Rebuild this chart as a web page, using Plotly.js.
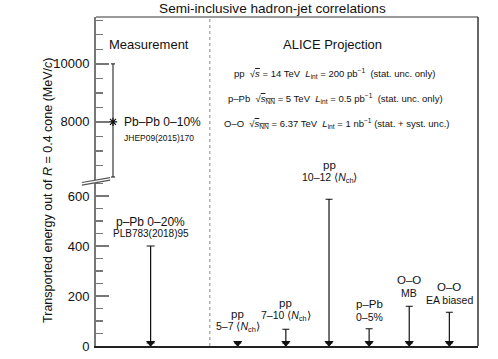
<!DOCTYPE html>
<html>
<head>
<meta charset="utf-8">
<script src="https://cdn.plot.ly/plotly-3.0.1.min.js"></script>
<style>
  body { margin: 0; background: #fff; }
  #chart { width: 498px; height: 359px; }
</style>
</head>
<body>
<div id="chart"></div>
<script>
// Measurements (published)
const measNames = ['Pb–Pb 0–10%', 'p–Pb 0–20%'];
const measRefs = ['JHEP09(2015)170', 'PLB783(2018)95'];
const measX = [0.445, 1.43];
const pbpbValue = 8000;
const pbpbHigh = 10000;
const pbpbLow = 6100;
const ppbLimit = 400;

// ALICE projections (upper limits)
const projSystems = ['pp', 'pp', 'pp', 'p–Pb', 'O–O', 'O–O'];
const projClasses = ['5–7 ⟨<i>N</i><sub>ch</sub>⟩', '7–10 ⟨<i>N</i><sub>ch</sub>⟩', '10–12 ⟨<i>N</i><sub>ch</sub>⟩', '0–5%', 'MB', 'EA biased'];
const projX = [3.71, 4.97, 6.1, 7.15, 8.2, 9.25];
const projLimits = [12, 67, 587, 69, 159, 135];

// tick labels
const lowTicks = [0, 200, 400, 600];
const highTicks = [8000, 10000];

// where the arrow heads sit (just above zero)
const arrowBase = 12;

const font = 'Liberation Sans, Arial, Helvetica, sans-serif';
const ink = '#111';

const measLimit = {
  x: [measX[1]],
  y: [arrowBase],
  xaxis: 'x', yaxis: 'y',
  type: 'scatter', mode: 'markers',
  marker: { symbol: 'triangle-down', size: 8, color: ink },
  error_y: {
    type: 'data', symmetric: false,
    array: [ppbLimit - arrowBase], arrayminus: [0],
    width: 4, thickness: 1.2, color: ink
  },
  hoverinfo: 'skip'
};

const pbpb = {
  x: [measX[0]],
  y: [pbpbValue],
  xaxis: 'x', yaxis: 'y2',
  type: 'scatter', mode: 'markers',
  marker: { symbol: 'asterisk-open', size: 7, color: ink, line: { color: ink, width: 1.2 } },
  error_y: {
    type: 'data', symmetric: false,
    array: [pbpbHigh - pbpbValue], arrayminus: [pbpbValue - pbpbLow],
    width: 2, thickness: 1, color: ink
  },
  hoverinfo: 'skip'
};

const proj = {
  x: projX,
  y: projX.map(() => arrowBase),
  xaxis: 'x', yaxis: 'y',
  type: 'scatter', mode: 'markers',
  marker: { symbol: 'triangle-down', size: 8, color: ink },
  error_y: {
    type: 'data', symmetric: false,
    array: projLimits.map(v => Math.max(v - arrowBase, 0)),
    arrayminus: projX.map(() => 0),
    width: 3.5, thickness: 1.2, color: ink
  },
  hoverinfo: 'skip'
};

// label offsets above each arrow (px): second line, first line is 13px higher
const projShift = [16, 13, 21, 12, 13, 12];

const annotations = [
  {
    text: 'Transported energy out of <i>R</i> = 0.4 cone (MeV/<i>c</i>)',
    xref: 'paper', yref: 'paper', x: -0.126, y: 0.474,
    xanchor: 'center', yanchor: 'middle',
    textangle: -90, showarrow: false, font: { size: 12.5, color: ink }
  },
  {
    text: 'Measurement', xref: 'x', yref: 'paper', x: 0.29, y: 0.945,
    xanchor: 'left', showarrow: false, font: { size: 13, color: ink }
  },
  {
    text: 'ALICE Projection', xref: 'x', yref: 'paper', x: 6.18, y: 0.945,
    showarrow: false, font: { size: 13, color: ink }
  },
  {
    text: 'pp  √<span style="text-decoration:overline"><i>s</i></span> = 14 TeV  <i>L</i><sub>int</sub> = 200 pb<sup>−1</sup>  (stat. unc. only)',
    xref: 'x', yref: 'paper', x: 3.56, y: 0.854, xanchor: 'left',
    showarrow: false, font: { size: 9.5, color: ink }
  },
  {
    text: 'p–Pb  √<span style="text-decoration:overline"><i>s</i><sub>NN</sub></span> = 5 TeV  <i>L</i><sub>int</sub> = 0.5 pb<sup>−1</sup>  (stat. unc. only)',
    xref: 'x', yref: 'paper', x: 3.40, y: 0.778, xanchor: 'left',
    showarrow: false, font: { size: 9.5, color: ink }
  },
  {
    text: 'O–O  √<span style="text-decoration:overline"><i>s</i><sub>NN</sub></span> = 6.37 TeV  <i>L</i><sub>int</sub> = 1 nb<sup>−1</sup> (stat. + syst. unc.)',
    xref: 'x', yref: 'paper', x: 3.30, y: 0.702, xanchor: 'left',
    showarrow: false, font: { size: 9.5, color: ink }
  },
  {
    text: measNames[0], xref: 'x', yref: 'y2', x: 0.68, y: pbpbValue,
    xanchor: 'left', showarrow: false, font: { size: 12, color: ink }
  },
  {
    text: measRefs[0], xref: 'x', yref: 'y2', x: 0.68, y: pbpbValue, yshift: -16,
    xanchor: 'left', showarrow: false, font: { size: 8.5, color: ink }
  },
  {
    text: measNames[1], xref: 'x', yref: 'y', x: measX[1], y: ppbLimit,
    yanchor: 'middle', yshift: 24, showarrow: false, font: { size: 12, color: ink }
  },
  {
    text: measRefs[1], xref: 'x', yref: 'y', x: measX[1], y: ppbLimit,
    yanchor: 'middle', yshift: 13, showarrow: false, font: { size: 10, color: ink }
  }
];

projSystems.forEach((s, i) => {
  annotations.push({
    text: s, xref: 'x', yref: 'y', x: projX[i], y: projLimits[i],
    yanchor: 'middle', yshift: projShift[i] + 13,
    showarrow: false, font: { size: 11.5, color: ink }
  });
  annotations.push({
    text: projClasses[i], xref: 'x', yref: 'y', x: projX[i], y: projLimits[i],
    yanchor: 'middle', yshift: projShift[i],
    showarrow: false, font: { size: 10.5, color: ink }
  });
});

const shapes = [
  // dotted separator between measurement and projection
  { type: 'line', xref: 'x', yref: 'paper', x0: 2.98, x1: 2.98, y0: 0, y1: 1,
    line: { color: '#888', width: 1, dash: 'dot' } },
  // frame top and right
  { type: 'line', xref: 'paper', yref: 'paper', x0: 0, x1: 1, y0: 1, y1: 1,
    line: { color: '#999', width: 2 } },
  { type: 'line', xref: 'paper', yref: 'paper', x0: 1, x1: 1, y0: 0, y1: 1,
    line: { color: '#333', width: 1.5 } },
  // axis break
  { type: 'path', xref: 'paper', yref: 'paper',
    path: 'M -0.037 0.489 L 0.037 0.504 L 0.037 0.512 L -0.037 0.497 Z',
    fillcolor: '#fff', line: { width: 0 } },
  { type: 'line', xref: 'paper', yref: 'paper', x0: -0.037, x1: 0.037, y0: 0.489, y1: 0.504,
    line: { color: '#555', width: 1.2 } },
  { type: 'line', xref: 'paper', yref: 'paper', x0: -0.037, x1: 0.037, y0: 0.497, y1: 0.512,
    line: { color: '#555', width: 1.2 } }
];

const layout = {
  width: 498,
  height: 359,
  margin: { l: 96, r: 20, t: 17, b: 13 },
  paper_bgcolor: '#fff',
  plot_bgcolor: '#fff',
  showlegend: false,
  font: { family: font, color: ink },
  title: {
    text: 'Semi-inclusive hadron-jet correlations',
    x: 0.547, xref: 'container', xanchor: 'center',
    y: 0.977, yref: 'container', yanchor: 'middle',
    font: { size: 13.6, color: ink }
  },
  xaxis: {
    range: [0, 10], showgrid: false, zeroline: false,
    showticklabels: false, ticks: '',
    showline: true, linecolor: '#222', linewidth: 1.5
  },
  yaxis: {
    domain: [0, 0.5], range: [0, 658],
    tickmode: 'array', tickvals: lowTicks, ticktext: lowTicks.map(String),
    ticks: 'inside', ticklen: 13, tickwidth: 1.2, tickcolor: '#777',
    minor: { dtick: 50, ticks: 'inside', ticklen: 7, tickwidth: 1.2, tickcolor: '#777' },
    showgrid: false, zeroline: false,
    showline: true, linecolor: '#777', linewidth: 2,
    tickfont: { size: 13, color: ink }, ticklabelstandoff: 2
  },
  yaxis2: {
    domain: [0.5, 1], range: [5945, 11617], anchor: 'x',
    tickmode: 'array', tickvals: highTicks, ticktext: highTicks.map(String),
    ticks: 'inside', ticklen: 13, tickwidth: 1.2, tickcolor: '#777',
    minor: { tickmode: 'array', tickvals: [6500, 7000, 7500, 8500, 9000, 9500, 10500, 11000, 11500],
             ticks: 'inside', ticklen: 7, tickwidth: 1.2, tickcolor: '#777' },
    showgrid: false, zeroline: false,
    showline: true, linecolor: '#777', linewidth: 2,
    tickfont: { size: 13, color: ink }, ticklabelstandoff: 2
  },
  annotations: annotations,
  shapes: shapes
};

Plotly.newPlot('chart', [measLimit, pbpb, proj], layout, { displayModeBar: false, staticPlot: true });
</script>
</body>
</html>
